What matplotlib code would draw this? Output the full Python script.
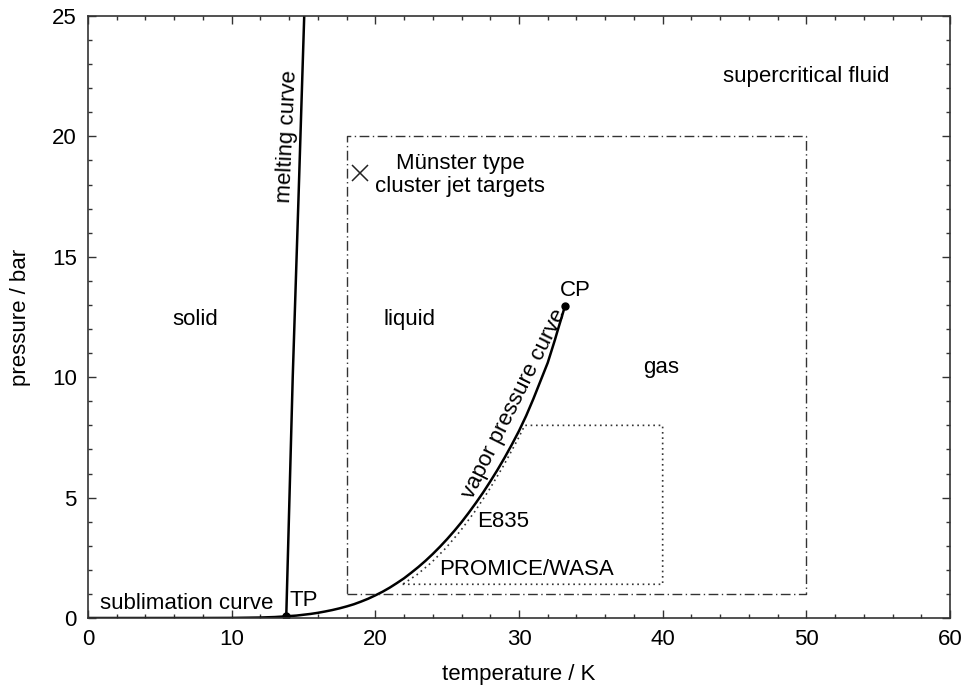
import matplotlib
matplotlib.use("Agg")
import matplotlib.pyplot as plt
from matplotlib.ticker import MultipleLocator

plt.rcParams['font.family'] = ['Liberation Sans', 'DejaVu Sans']

# phase boundaries (hydrogen)
sub_T = [0, 4, 8, 10, 12, 13.0, 13.8]
sub_p = [0, 0, 0.001, 0.004, 0.02, 0.04, 0.07]

melt_T = [13.8, 14.25, 14.65, 15.05]
melt_p = [0.07, 10.0, 17.4, 25.0]

vap_T = [13.8, 14, 14.5, 15, 15.5, 16, 16.5, 17, 17.5, 18, 18.5, 19, 19.5, 20, 20.5, 21, 21.5,
         22, 22.5, 23, 23.5, 24, 24.5, 25, 25.5, 26, 26.5, 27, 27.5, 28, 28.5, 29, 29.5, 30,
         30.5, 31, 31.5, 32, 32.5, 32.7, 33.0, 33.2]
vap_p = [0.07, 0.08, 0.10, 0.135, 0.17, 0.215, 0.27, 0.33, 0.40, 0.48, 0.57, 0.68, 0.80, 0.94,
         1.09, 1.26, 1.45, 1.65, 1.88, 2.12, 2.38, 2.66, 2.96, 3.28, 3.62, 3.98, 4.37, 4.78,
         5.21, 5.67, 6.15, 6.66, 7.20, 7.77, 8.40, 9.10, 9.85, 10.60, 11.55, 11.96, 12.55, 12.96]

tp = (13.8, 0.07)
cp = (33.2, 12.96)

# operating ranges
munster_T = [18, 50, 50, 18, 18]
munster_p = [1, 1, 20, 20, 1]

promice_T = [21.9, 40, 40, 30.4, 29.9, 29.4, 28.9, 28.4, 27.9, 27.4, 26.9, 26.4, 25.9, 25.4,
             24.9, 24.4, 23.9, 23.4, 22.9, 22.4, 21.9]
promice_p = [1.4, 1.4, 8.0, 8.0, 7.4, 6.85, 6.3, 5.8, 5.3, 4.85, 4.4, 4.0, 3.6, 3.25, 2.9, 2.6,
             2.3, 2.05, 1.8, 1.6, 1.4]

cluster_pt = (18.9, 18.5)

fig = plt.figure(figsize=(9.7, 6.9), dpi=100)
ax = fig.add_axes([88 / 970, 1 - 618 / 690, 862 / 970, 602 / 690])

ax.plot(sub_T, sub_p, color='black', lw=1.8)
ax.plot(melt_T, melt_p, color='black', lw=1.8)
ax.plot(vap_T, vap_p, color='black', lw=1.8)
ax.plot([tp[0], cp[0]], [tp[1], cp[1]], 'o', color='black', ms=5, ls='none')

ax.plot(munster_T, munster_p, color='#333333', lw=1.0, ls=(0, (7, 2.5, 1, 2.5)))
ax.plot(promice_T, promice_p, color='#333333', lw=1.2, ls=(0, (1, 2.2)))
ax.plot([cluster_pt[0]], [cluster_pt[1]], marker='x', color='#222222', ms=12, mew=1.1, ls='none')

fs = 16
ax.text(49.96, 22.5, 'supercritical fluid', fontsize=fs, ha='center', va='center')
ax.text(7.45, 12.4, 'solid', fontsize=fs, ha='center', va='center')
ax.text(22.4, 12.4, 'liquid', fontsize=fs, ha='center', va='center')
ax.text(39.9, 10.4, 'gas', fontsize=fs, ha='center', va='center')
ax.text(25.9, 18.4, 'Münster type\ncluster jet targets', fontsize=fs, ha='center', va='center',
        linespacing=1.1)
ax.text(33.9, 13.6, 'CP', fontsize=fs, ha='center', va='center')
ax.text(15.0, 0.72, 'TP', fontsize=fs, ha='center', va='center')
ax.text(6.9, 0.62, 'sublimation curve', fontsize=fs, ha='center', va='center')
ax.text(28.9, 4.0, 'E835', fontsize=fs, ha='center', va='center')
ax.text(30.5, 2.0, 'PROMICE/WASA', fontsize=fs, ha='center', va='center')
ax.text(13.9, 20.0, 'melting curve', fontsize=fs, ha='center', va='center', rotation=87.5,
        rotation_mode='anchor')
ax.text(29.7, 8.9, 'vapor pressure curve', fontsize=fs, ha='center', va='center', rotation=63.5,
        rotation_mode='anchor')

ax.set_xlim(0, 60)
ax.set_ylim(0, 25)
ax.xaxis.set_major_locator(MultipleLocator(10))
ax.xaxis.set_minor_locator(MultipleLocator(2))
ax.yaxis.set_major_locator(MultipleLocator(5))
ax.yaxis.set_minor_locator(MultipleLocator(1))
ax.tick_params(which='both', direction='in', top=True, right=True, color='#333333', width=1.0,
               labelsize=fs)
ax.tick_params(which='major', length=6)
ax.tick_params(which='minor', length=3)
ax.tick_params(axis='x', pad=8)
ax.tick_params(axis='y', pad=8)
for s in ax.spines.values():
    s.set_color('#333333')
    s.set_linewidth(1.2)

ax.set_xlabel('temperature / K', fontsize=fs, labelpad=10)
ax.set_ylabel('pressure / bar', fontsize=fs, labelpad=15)

fig.savefig('out.png', dpi=100)
